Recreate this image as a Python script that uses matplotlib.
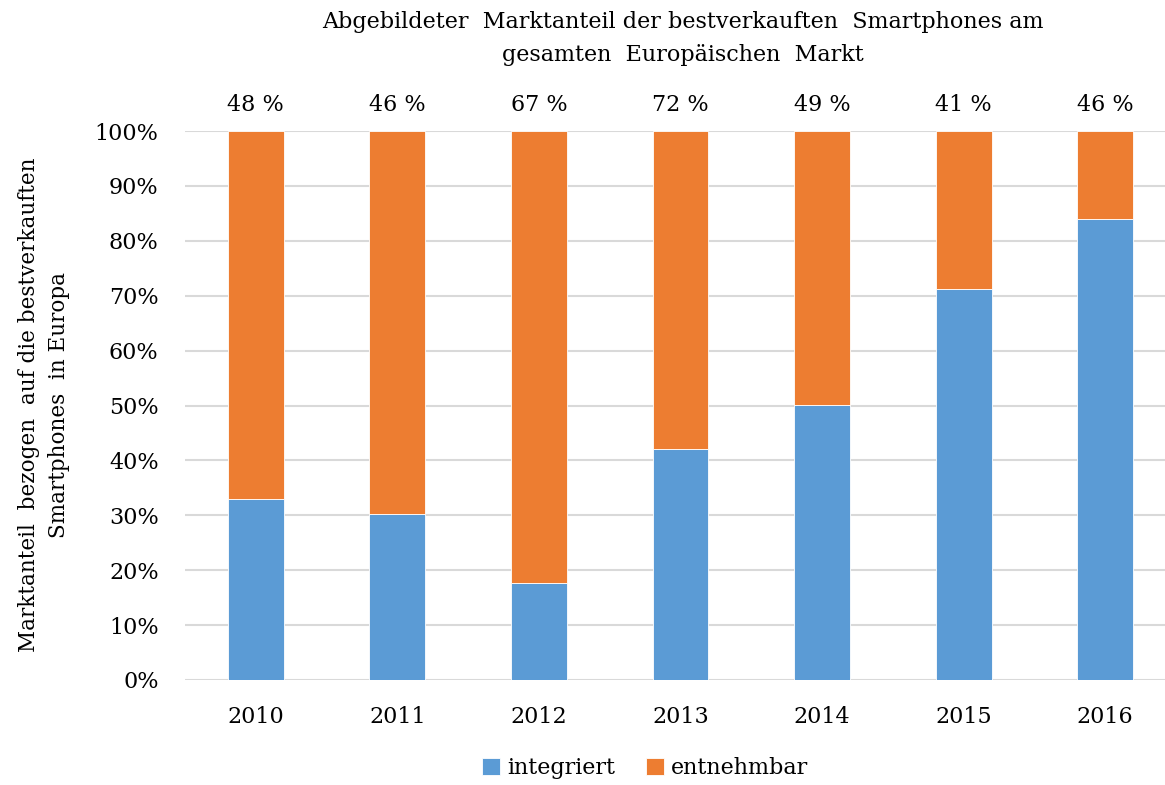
import matplotlib
matplotlib.use("Agg")
import matplotlib.pyplot as plt
import numpy as np

years = ["2010", "2011", "2012", "2013", "2014", "2015", "2016"]
integriert = [33.0, 30.2, 17.7, 42.1, 50.1, 71.2, 84.0]
entnehmbar = [100 - v for v in integriert]
abgebildet = ["48 %", "46 %", "67 %", "72 %", "49 %", "41 %", "46 %"]
yticks = [0, 10, 20, 30, 40, 50, 60, 70, 80, 90, 100]

plt.rcParams['font.family'] = ['DejaVu Serif']
W, H = 1165, 785
fig = plt.figure(figsize=(W/100, H/100), dpi=100)
ax = fig.add_axes([185/W, 1-680/H, (1176-185)/W, (680-131)/H])

x = np.arange(len(years))
blue = "#5B9BD5"
orange = "#ED7D31"
ax.bar(x, integriert, width=0.395, color=blue, edgecolor="white", linewidth=0.6, label="integriert", zorder=3)
ax.bar(x, entnehmbar, width=0.395, bottom=integriert, color=orange, edgecolor="white", linewidth=0.6, label="entnehmbar", zorder=3)

ax.set_xlim(-0.5, len(years) - 0.5)
ax.set_ylim(0, 100)
ax.set_yticks(yticks)
ax.set_yticklabels([f"{t}%" for t in yticks], fontsize=16)
ax.set_xticks(x)
ax.set_xticklabels(years, fontsize=16)
ax.tick_params(axis='both', length=0)
ax.tick_params(axis='y', pad=19)
ax.tick_params(axis='x', pad=19)
ax.yaxis.grid(True, color="#D9D9D9", linewidth=1.5, zorder=0)
for s in ax.spines.values():
    s.set_visible(False)

for xi, lab in zip(x, abgebildet):
    ax.text(xi, 104.8, lab, ha="center", va="center", fontsize=16, clip_on=False)

fig.text(683/W, 1-22/H, "Abgebildeter  Marktanteil der bestverkauften  Smartphones am",
         ha="center", va="center", fontsize=16)
fig.text(683/W, 1-55/H, "gesamten  Europäischen  Markt", ha="center", va="center", fontsize=16)

fig.text(44/W, 1-405/H, "Marktanteil  bezogen  auf die bestverkauften\nSmartphones  in Europa",
         ha="center", va="center", rotation=90, fontsize=15.5, linespacing=1.45)

ax.legend(loc="center", bbox_to_anchor=(645/W, 1-768/H), bbox_transform=fig.transFigure,
          ncol=2, frameon=False, fontsize=16, handlelength=0.8, handleheight=0.8,
          handletextpad=0.3, columnspacing=1.4)

fig.savefig("out.png", dpi=100)
